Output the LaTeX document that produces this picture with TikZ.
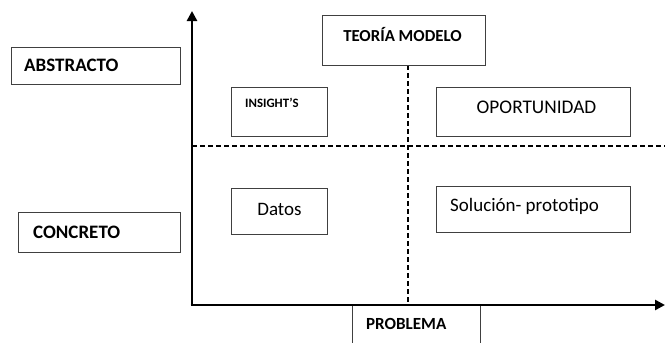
\documentclass[tikz,border=0pt]{standalone}
\usepackage{fontspec}
\setmainfont{Carlito}
\usetikzlibrary{arrows.meta}
\begin{document}
\begin{tikzpicture}[x=1pt,y=-1pt,
  box/.style={draw=black!75,line width=1pt,rectangle,inner sep=0pt},
  lbl/.style={inner sep=0pt,anchor=west,text=black},
  axis/.style={line width=2.6pt,-{Triangle[length=10pt,width=10pt]}},
  grid/.style={line width=1.5pt,dash pattern=on 5pt off 3pt}]
\useasboundingbox (0,0) rectangle (665,343);
% boxes
\draw[box] (11,47) rectangle (180,84);
\node[lbl,font=\bfseries\fontsize{19}{22}\selectfont] (abs) at (24,65.5) {ABSTRACTO};
\draw[box] (18,212) rectangle (180,252);
\node[lbl,font=\bfseries\fontsize{19}{22}\selectfont] (con) at (33,232) {CONCRETO};
\draw[box] (231,87) rectangle (327,136);
\node[lbl,font=\bfseries\fontsize{12.8}{15}\selectfont] (ins) at (245,103) {INSIGHT'S};
\draw[box] (436,87) rectangle (630,136);
\node[font=\fontsize{19.3}{22}\selectfont,inner sep=0pt] (opo) at (536.5,107) {OPORTUNIDAD};
\draw[box] (231,188) rectangle (327,234);
\node[font=\fontsize{19}{22}\selectfont,inner sep=0pt] (dat) at (279.5,209) {Datos};
\draw[box] (436,186) rectangle (630,232);
\node[lbl,font=\fontsize{19}{22}\selectfont] (sol) at (450,206) {Solución- prototipo};
% dashed lines
\coordinate (hl) at (192,146);
\coordinate (hr) at (665,146);
\coordinate (vt) at (408,65);
\coordinate (vb) at (408,305);
\draw[grid] (hl) -- (hr);
\draw[grid] (vt) -- (vb);
\draw[box,fill=white] (322,15) rectangle (485,65);
\node[font=\bfseries\fontsize{16.8}{19}\selectfont,inner sep=0pt] (teo) at (402.5,35) {TEORÍA MODELO};
% problema box (open at bottom)
\draw[box] (352,343) -- (352,305) -- (480,305) -- (480,343);
\node[lbl,font=\bfseries\fontsize{17}{20}\selectfont] (pro) at (366,324) {PROBLEMA};
% axes
\coordinate (o) at (192,305);
\coordinate (ytop) at (192,11);
\coordinate (xend) at (665,305);
\draw[axis] (o) -- (ytop);
\draw[axis] ([xshift=-1.3pt]o) -- (xend);
\end{tikzpicture}
\end{document}
